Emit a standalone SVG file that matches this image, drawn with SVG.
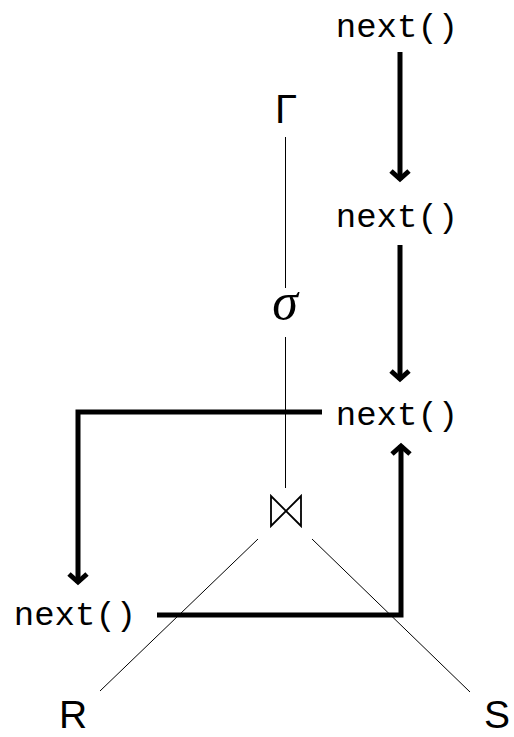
<svg xmlns="http://www.w3.org/2000/svg" width="514" height="737" viewBox="0 0 514 737">
<style>
.mono{font-family:"Liberation Mono","DejaVu Sans Mono",monospace;font-size:34px;fill:#000}
.sans{font-family:"Liberation Sans",Arial,sans-serif;font-size:40px;fill:#000}
.thin{stroke:#000;stroke-width:1;fill:none}
.thick{stroke:#000;stroke-width:5;fill:none}
</style>
<defs>
<marker id="ah" markerUnits="userSpaceOnUse" markerWidth="30" markerHeight="30" viewBox="-15 -15 30 30" refX="0" refY="0" orient="auto" overflow="visible">
<path d="M-9,-9 L-1,0 L-9,9" stroke="#000" stroke-width="5" fill="none" stroke-linejoin="miter"/>
</marker>
</defs>
<rect width="514" height="737" fill="#fff"/>
<g id="connectors">
<line class="thin" x1="285.5" y1="137" x2="285.5" y2="288"/>
<line class="thin" x1="285.5" y1="337" x2="285.5" y2="488"/>
<line class="thin" x1="258" y1="539" x2="100" y2="691"/>
<line class="thin" x1="312" y1="539" x2="470" y2="692"/>
<line class="thick" x1="400" y1="52" x2="400" y2="180" marker-end="url(#ah)"/>
<line class="thick" x1="400" y1="245" x2="400" y2="380" marker-end="url(#ah)"/>
<polyline class="thick" points="322,412 78,412 78,583" marker-end="url(#ah)"/>
<polyline class="thick" points="157,615 401,615 401,445" marker-end="url(#ah)"/>
</g>
<g id="next1"><text class="mono" x="397" y="37" text-anchor="middle">next()</text></g>
<g id="next2"><text class="mono" x="397" y="227" text-anchor="middle">next()</text></g>
<g id="next3"><text class="mono" x="397" y="425" text-anchor="middle">next()</text></g>
<g id="next4"><text class="mono" x="75" y="625" text-anchor="middle">next()</text></g>
<g id="gamma"><text class="sans" x="286" y="123" text-anchor="middle">Γ</text></g>
<g id="sigma"><text x="285" y="319" text-anchor="middle" style="font-family:'Liberation Serif',serif;font-style:italic;font-size:52px">σ</text></g>
<g id="join"><path class="thin" style="stroke-width:1.8" d="M271,496 L271,526 L301,496 L301,526 Z"/></g>
<g id="R"><text class="sans" x="73" y="728" text-anchor="middle" style="font-size:39px">R</text></g>
<g id="S"><text class="sans" x="497" y="728" text-anchor="middle" style="font-size:39px">S</text></g>
</svg>
